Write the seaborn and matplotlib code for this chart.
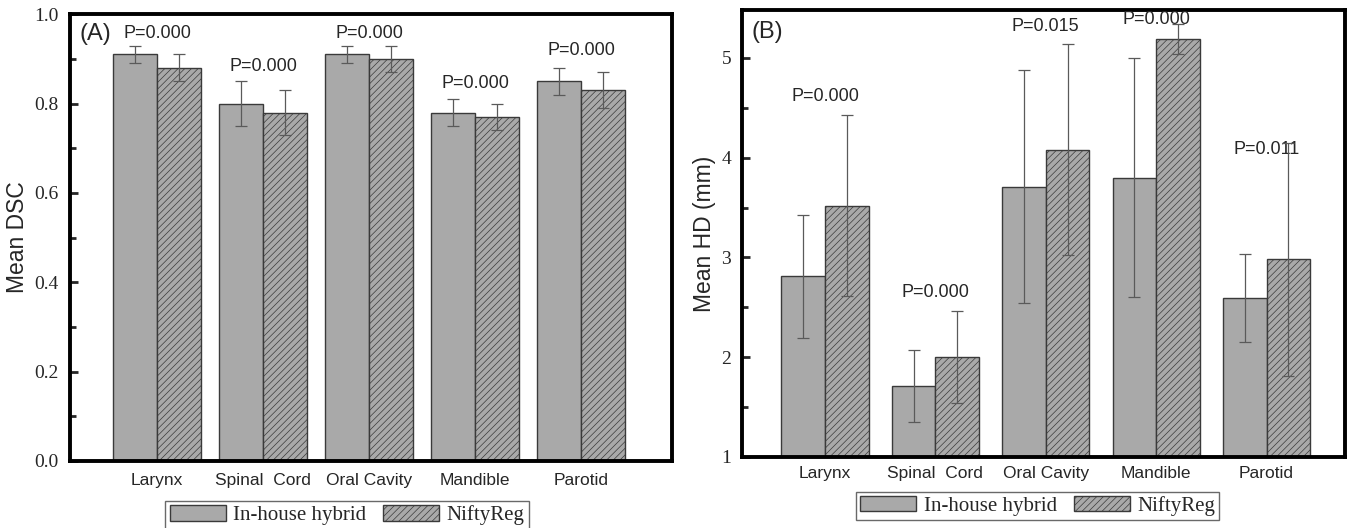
import seaborn as sns
import matplotlib.pyplot as plt
import pandas as pd
from matplotlib.patches import Patch
from matplotlib.ticker import MultipleLocator

organs = ["Larynx", "Spinal  Cord", "Oral Cavity", "Mandible", "Parotid"]
methods = ["In-house hybrid", "NiftyReg"]

# panel A : mean DSC
dsc_inhouse = [0.91, 0.80, 0.91, 0.78, 0.85]
dsc_inhouse_sd = [0.02, 0.05, 0.02, 0.03, 0.03]
dsc_nifty = [0.88, 0.78, 0.90, 0.77, 0.83]
dsc_nifty_sd = [0.03, 0.05, 0.03, 0.03, 0.04]
dsc_p = ["P=0.000", "P=0.000", "P=0.000", "P=0.000", "P=0.000"]
dsc_p_y = [0.957, 0.883, 0.957, 0.845, 0.919]

# panel B : mean HD
hd_inhouse = [2.81, 1.71, 3.71, 3.80, 2.59]
hd_inhouse_sd = [0.62, 0.36, 1.17, 1.20, 0.44]
hd_nifty = [3.52, 2.00, 4.08, 5.19, 2.98]
hd_nifty_sd = [0.91, 0.46, 1.06, 0.15, 1.17]
hd_p = ["P=0.000", "P=0.000", "P=0.015", "P=0.000", "P=0.011"]
hd_p_y = [4.61, 2.65, 5.31, 5.39, 4.08]

sns.set_style("white")
plt.rcParams['font.family'] = ['Liberation Sans', 'DejaVu Sans']
plt.rcParams['hatch.linewidth'] = 0.5

gray = "#a9a9a9"
edge = "#3a3a3a"


def panel(ax, inhouse, inhouse_sd, nifty, nifty_sd, pvals, py, width, xlim, ylim,
          major, minor, ylabel, tag, tagy, legx, legy, xpad):
    df = pd.DataFrame({
        "organ": organs * 2,
        "method": [methods[0]] * 5 + [methods[1]] * 5,
        "value": inhouse + nifty,
    })
    sns.barplot(data=df, x="organ", y="value", hue="method", order=organs,
                hue_order=methods, palette=[gray, gray], width=width,
                errorbar=None, edgecolor=edge, linewidth=1.0, ax=ax, legend=False)
    for cont, sd in zip(ax.containers, [inhouse_sd, nifty_sd]):
        xs = [p.get_x() + p.get_width() / 2 for p in cont]
        ys = [p.get_height() for p in cont]
        ax.errorbar(xs, ys, yerr=sd, fmt="none", ecolor="#5a5a5a",
                    elinewidth=0.9, capsize=4, capthick=0.9, zorder=5)
    for p in ax.containers[1]:
        p.set_hatch("/////")
    for i, (t, y) in enumerate(zip(pvals, py)):
        ax.text(i, y, t, ha="center", va="center", fontsize=13)
    ax.text(0.015, tagy, tag, transform=ax.transAxes, fontsize=17, va="center")
    ax.set_xlim(*xlim)
    ax.set_ylim(*ylim)
    ax.yaxis.set_major_locator(MultipleLocator(major))
    ax.yaxis.set_minor_locator(MultipleLocator(minor))
    ax.tick_params(axis="y", which="both", direction="in", left=True, pad=8,
                   labelsize=14, labelfontfamily="Liberation Serif", width=2)
    ax.tick_params(axis="y", which="major", length=6)
    ax.tick_params(axis="y", which="minor", length=4)
    ax.tick_params(axis="x", bottom=False, labelsize=12.5, pad=xpad)
    ax.set_xlabel("")
    ax.set_ylabel(ylabel, fontsize=16.5)
    for s in ax.spines.values():
        s.set_visible(True)
        s.set_linewidth(2.8)
        s.set_color("black")
    handles = [Patch(facecolor=gray, edgecolor=edge, label=methods[0]),
               Patch(facecolor=gray, edgecolor=edge, hatch="/////", label=methods[1])]
    leg = ax.legend(handles=handles, loc="upper center", bbox_to_anchor=(legx, legy),
                    ncol=2, frameon=True, fancybox=False, handlelength=2.7,
                    handleheight=0.75, columnspacing=0.8, handletextpad=0.35,
                    borderpad=0.2, borderaxespad=0,
                    prop={"family": "Liberation Serif", "size": 15})
    leg.get_frame().set_edgecolor("#444444")
    leg.get_frame().set_linewidth(1.0)


fig = plt.figure(figsize=(13.47, 5.28), dpi=100)
axA = fig.add_axes([0.052, 0.127, 0.447, 0.846])
axB = fig.add_axes([0.551, 0.1345, 0.4475, 0.8465])

panel(axA, dsc_inhouse, dsc_inhouse_sd, dsc_nifty, dsc_nifty_sd, dsc_p, dsc_p_y,
      0.83, (-0.82, 4.86), (0, 1.0), 0.2, 0.1, "Mean DSC", "(A)", 0.955, 0.46, -0.09, 5)
panel(axB, hd_inhouse, hd_inhouse_sd, hd_nifty, hd_nifty_sd, hd_p, hd_p_y,
      0.79, (-0.75, 4.71), (1, 5.48), 1, 0.5, "Mean HD (mm)", "(B)", 0.95, 0.49, -0.078, 3)

axA.set_yticklabels([f"{v:.1f}" for v in axA.get_yticks()])
axB.set_yticklabels([f"{int(v)}" for v in axB.get_yticks()])

plt.savefig("out.png", dpi=100)
